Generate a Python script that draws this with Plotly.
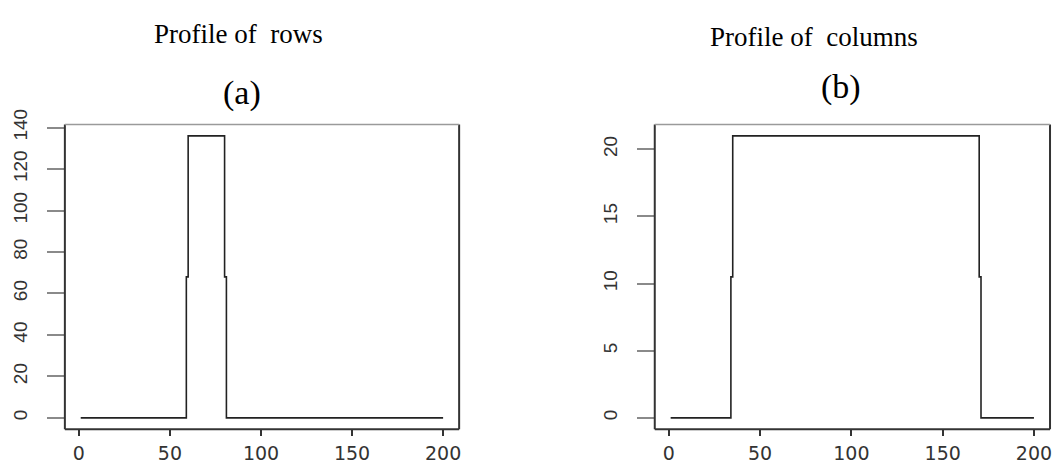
import plotly.graph_objects as go

# Step profiles (index -> count); each point holds its value until the next index
row_x = [1, 59, 60, 80, 81, 200]
row_y = [0, 68, 136, 68, 0, 0]
col_x = [1, 34, 35, 170, 171, 200]
col_y = [0, 10.5, 21, 10.5, 0, 0]

x_ticks = [0, 50, 100, 150, 200]
row_ticks = [0, 20, 40, 60, 80, 100, 120, 140]
col_ticks = [0, 5, 10, 15, 20]

captions = ["Profile of  rows", "Profile of  columns"]
panel_tags = ["(a)", "(b)"]

W, H = 1062, 464
line_col = "#222222"

fig = go.Figure()
fig.add_trace(go.Scatter(x=row_x, y=row_y, mode="lines", line_shape="hv",
                         line=dict(color=line_col, width=1.6),
                         xaxis="x", yaxis="y", showlegend=False, hoverinfo="skip"))
fig.add_trace(go.Scatter(x=col_x, y=col_y, mode="lines", line_shape="hv",
                         line=dict(color=line_col, width=1.6),
                         xaxis="x2", yaxis="y2", showlegend=False, hoverinfo="skip"))

ydom = [(H - 435.7) / H, (H - 114.5) / H]
xdom_a = [65 / W, 460 / W]
xdom_b = [656 / W, 1052 / W]

xfont = dict(family="DejaVu Sans, Arial", size=19, color="#333333")
yfont = dict(family="Liberation Sans Narrow, Arial Narrow, Liberation Sans, Arial",
             size=19, color="#333333")

def xaxis_cfg(dom, anchor):
    return dict(domain=dom, anchor=anchor, range=[-7.7, 208.8],
                tickvals=x_ticks, ticktext=[str(v) for v in x_ticks],
                ticks="outside", ticklen=6, tickwidth=2, tickcolor="#333333",
                tickfont=xfont, showgrid=False, zeroline=False, showline=False,
                ticklabelstandoff=1)

def yaxis_cfg(anchor, rng, vals):
    return dict(domain=ydom, anchor=anchor, range=rng,
                tickvals=vals, ticktext=[str(v) for v in vals],
                ticks="outside", ticklen=17, tickwidth=1.5, tickcolor="#8a8a8a",
                tickangle=-90, tickfont=yfont, showgrid=False, zeroline=False,
                showline=False, ticklabelstandoff=12)

fig.update_layout(
    width=W, height=H,
    margin=dict(l=0, r=0, t=0, b=0),
    paper_bgcolor="white", plot_bgcolor="white",
    xaxis=xaxis_cfg(xdom_a, "y"),
    yaxis=yaxis_cfg("x", [-5.44, 141.44], row_ticks),
    xaxis2=xaxis_cfg(xdom_b, "y2"),
    yaxis2=yaxis_cfg("x2", [-0.84, 21.84], col_ticks),
)

# Frame around each panel: dark left/right/bottom, lighter top edge
shapes = []
for xr, yr in (("x domain", "y domain"), ("x2 domain", "y2 domain")):
    dark = dict(color="#333333", width=2)
    shapes += [
        dict(type="line", xref=xr, yref=yr, x0=0, x1=0, y0=0, y1=1, line=dark),
        dict(type="line", xref=xr, yref=yr, x0=1, x1=1, y0=0, y1=1, line=dark),
        dict(type="line", xref=xr, yref=yr, x0=0, x1=1, y0=0, y1=0, line=dark),
        dict(type="line", xref=xr, yref=yr, x0=0, x1=1, y0=1, y1=1,
             line=dict(color="#9a9a9a", width=1.5)),
    ]
fig.update_layout(shapes=shapes)

serif = "Liberation Serif, Times New Roman, serif"
cap_pos = [(238.5, 19), (815.5, 22)]
tag_pos = [(242, 81), (843, 75)]
annotations = []
for text, (px, py) in zip(captions, cap_pos):
    annotations.append(dict(text=text, x=px / W, y=1 - py / H, xref="paper", yref="paper",
                            xanchor="center", yanchor="middle", showarrow=False,
                            font=dict(family=serif, size=27, color="black")))
for text, (px, py) in zip(panel_tags, tag_pos):
    annotations.append(dict(text=text, x=px / W, y=1 - py / H, xref="paper", yref="paper",
                            xanchor="center", yanchor="middle", showarrow=False,
                            font=dict(family=serif, size=34, color="black")))
fig.update_layout(annotations=annotations)

fig.write_html("out.html")
